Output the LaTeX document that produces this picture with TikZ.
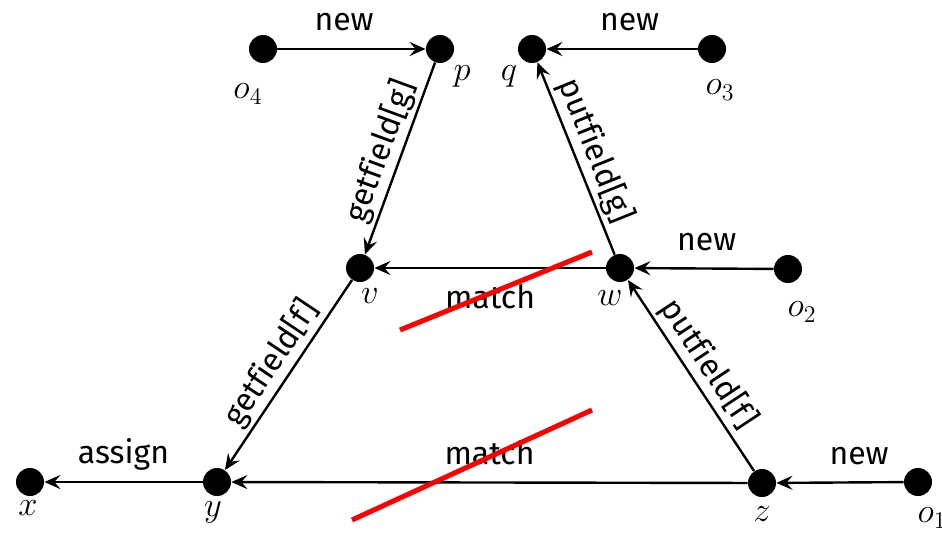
\documentclass[tikz,border=0pt]{standalone}
\usepackage{fontspec}
\setsansfont{Fira Sans}[Ligatures=CommonOff]
\usetikzlibrary{arrows.meta}
\begin{document}
\begin{tikzpicture}[x=0.5pt,y=-0.5pt,
  dot/.style={circle,fill=black,inner sep=0pt,minimum size=14pt},
  arr/.style={-{Stealth[length=8pt,width=7pt,inset=3pt]},line width=1.2pt},
  lbl/.style={font=\sffamily\fontsize{16}{19}\selectfont,text depth=0pt,inner sep=2pt},
  nm/.style={font=\fontsize{18}{21}\selectfont,inner sep=0pt},
  cut/.style={red,line width=2.5pt}]
\useasboundingbox (0,0) rectangle (942,540);
% points
\node[dot] (o4) at (263,49) {};
\node[dot] (p)  at (440,49) {};
\node[dot] (q)  at (532,49) {};
\node[dot] (o3) at (712,49) {};
\node[dot] (v)  at (360,268) {};
\node[dot] (w)  at (620,268) {};
\node[dot] (o2) at (788,269) {};
\node[dot] (x)  at (30,482) {};
\node[dot] (y)  at (217,482) {};
\node[dot] (z)  at (762,483) {};
\node[dot] (o1) at (918,482) {};
% names
\node[nm] (lo4) at (248,94) {$o_4$};
\node[nm] (lp)  at (462,76) {$p$};
\node[nm] (lq)  at (509,76) {$q$};
\node[nm] (lo3) at (720,90) {$o_3$};
\node[nm] (lv)  at (370,296) {$v$};
\node[nm] (lw)  at (610,298) {$w$};
\node[nm] (lo2) at (802,312) {$o_2$};
\node[nm] (lx)  at (28,508) {$x$};
\node[nm] (ly)  at (213,512) {$y$};
\node[nm] (lz)  at (762,514) {$z$};
\node[nm] (lo1) at (932,518) {$o_1$};
% edges
\draw[arr] (o4) -- node[lbl,above=6.5pt,pos=0.45]{new} (p);
\draw[arr] (o3) -- node[lbl,above=6.5pt,pos=0.45]{new} (q);
\draw[arr] (o2) -- node[lbl,above=6.5pt,pos=0.48]{new} (w);
\draw[arr] (o1) -- node[lbl,above=6.5pt,pos=0.35]{new} (z);
\draw[arr] (y) -- node[lbl,above=6.5pt]{assign} (x);
\draw[arr] (z) -- node[lbl,above=6.5pt]{match} (y);
\draw[arr] (w) -- node[lbl,below=5.5pt]{match} (v);
\draw[arr] (p) -- node[lbl,sloped,above=3pt]{getfield[g]} (v);
\draw[arr] (w) -- node[lbl,sloped,above=3pt]{putfield[g]} (q);
\draw[arr] (v) -- node[lbl,sloped,above=3pt]{getfield[f]} (y);
\draw[arr] (z) -- node[lbl,sloped,above=3pt]{putfield[f]} (w);
% strike lines
\draw[cut] (400,330) -- (592,252);
\draw[cut] (352,520) -- (592,410);
\end{tikzpicture}
\end{document}
